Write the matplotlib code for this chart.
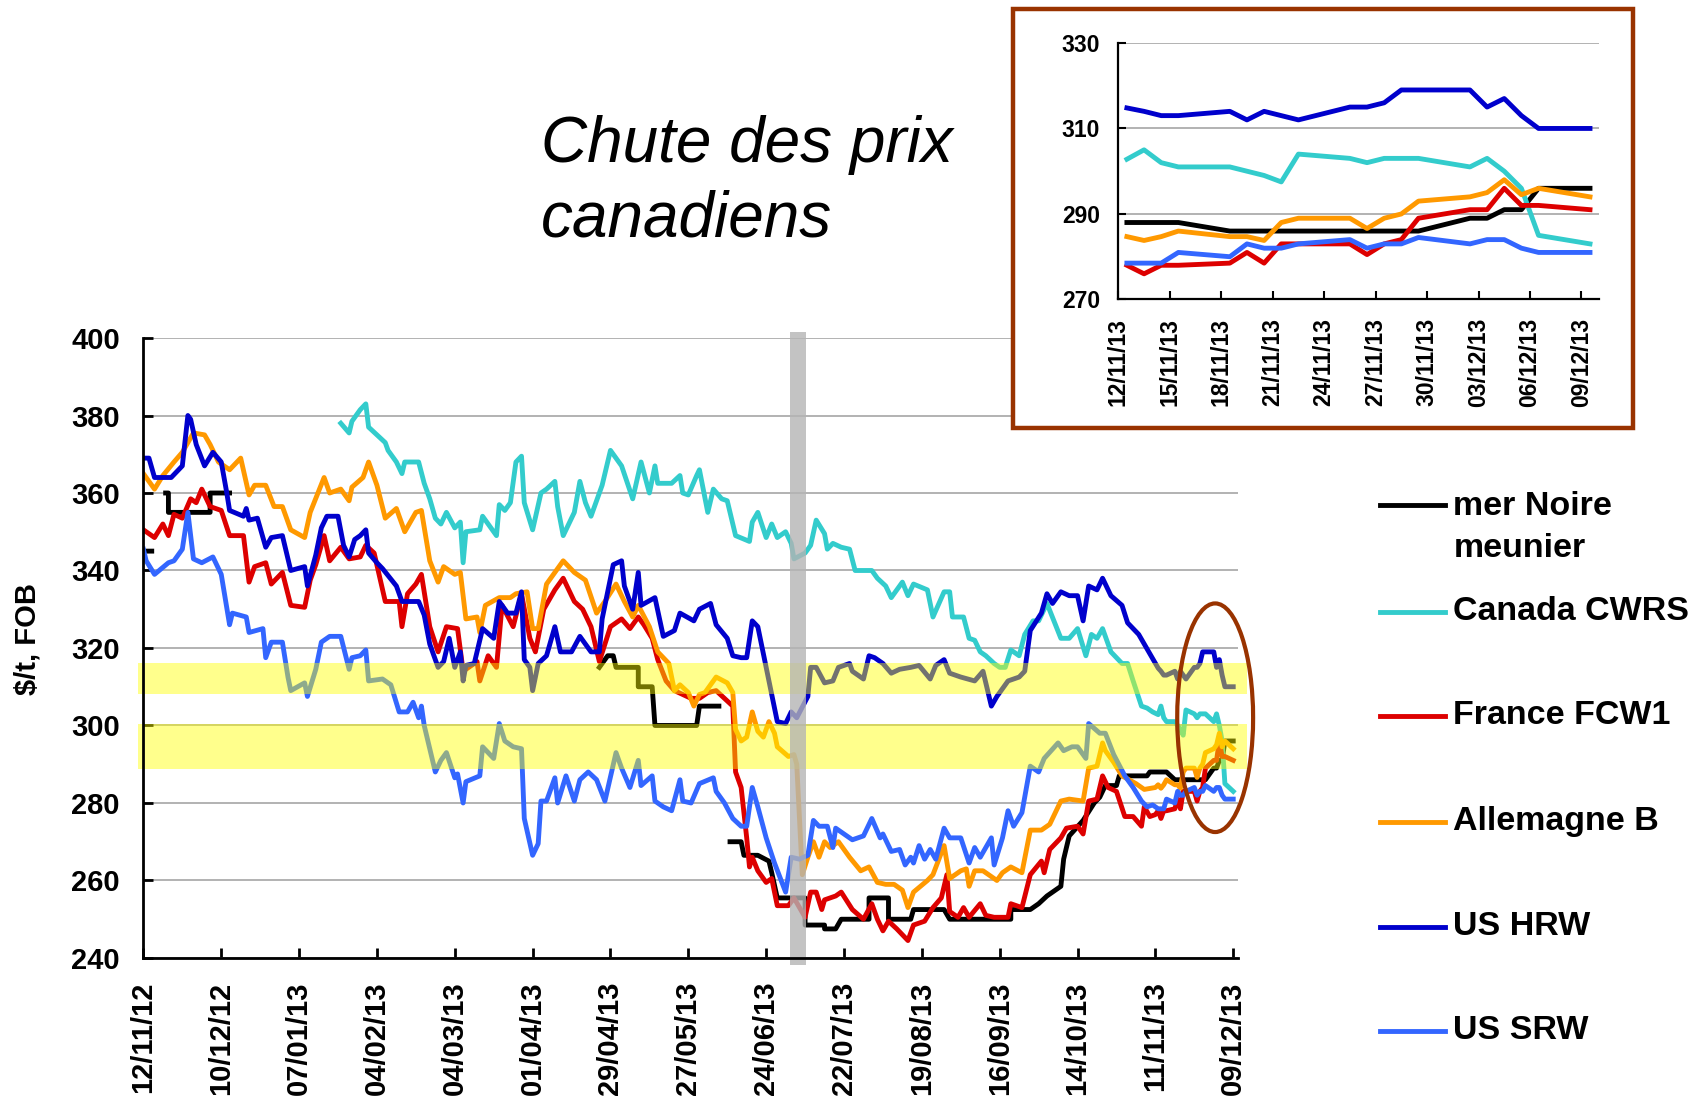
import numpy as np
import pandas as pd
import matplotlib
matplotlib.use('Agg')
import matplotlib.pyplot as plt
from matplotlib.patches import Ellipse, Rectangle
from matplotlib.lines import Line2D

plt.rcParams['font.family'] = ['Liberation Sans', 'DejaVu Sans']

# ==================== data ====================
START = pd.Timestamp('2012-11-12')

# main chart, (day offset from 12/11/12, $/t FOB) up to 11/11/13; None = no quote
NOIRE_MAIN = [(0, 345), (3, 345), (5, None),
              (8, 360), (9, 360), (9, 355), (24, 355), (24, 360), (31, 360), (33, None),
              (164, 315), (167, 318), (169, 318), (170, 315), (178, 315), (178, 310),
              (183, 310), (184, 300), (199, 300), (200, 305), (207, 305), (209, None),
              (211, 270), (215, 270), (216, 266.5), (221, 266.5), (225, 265), (226, 262),
              (228, 255.5), (238, 255.5), (238, 248.5), (245, 248.5), (245, 247.5),
              (249, 247.5), (251, 250), (261, 250), (261, 255.5), (268, 255.5), (268, 250),
              (276, 250), (277, 252.5), (288, 252.5), (290, 250), (312, 250), (312, 252.5),
              (319, 252.5), (322, 254), (325, 256), (330, 258.5), (331, 265.5), (333, 271.5),
              (338, 275.5), (342, 280), (344, 281.5), (346, 284.5), (350, 284.5), (351, 287),
              (361, 287), (362, 288), (364, 288)]

CWRS_MAIN = [(71, 378), (74, 375.5), (75, 378.5), (78, 381.5), (80, 383), (81, 377), (84, 375),
             (87, 373), (88, 371), (91, 368), (93, 365), (94, 368), (99, 368), (101, 362.5),
             (103, 358.5), (105, 353.5), (107, 352), (109, 355), (112, 351), (114, 352.5),
             (115, 342), (116, 350), (121, 350.5), (122, 354), (127, 349), (128, 357),
             (130, 355.5), (132, 357.5), (134, 368), (136, 369.5), (137, 357.5), (140, 350.5),
             (143, 360), (145, 361), (148, 363), (149, 356.5), (151, 349), (155, 355),
             (157, 363), (159, 357.5), (161, 354), (165, 362), (168, 371), (172, 367),
             (176, 358.5), (179, 368), (182, 360), (184, 367), (185, 362.5), (190, 362.5),
             (193, 364.5), (194, 360), (196, 359.5), (199, 364.5), (200, 366), (203, 355),
             (205, 361), (208, 358.5), (210, 358), (213, 349), (218, 347.5), (219, 352.5),
             (221, 355), (224, 348.5), (226, 352), (228, 348.5), (231, 350), (233, 347),
             (234, 343), (238, 344.5), (240, 346.5), (242, 353), (245, 349.5), (246, 345.5),
             (248, 347), (251, 346), (254, 345.5), (256, 340), (262, 340), (264, 338),
             (267, 336), (269, 333), (273, 337), (275, 333.5), (277, 336.5), (282, 335),
             (284, 328), (288, 334.5), (290, 334.5), (291, 328), (295, 328), (297, 322.5),
             (299, 322), (301, 319), (303, 318), (306, 316), (308, 315), (310, 315),
             (312, 319.5), (315, 318), (317, 323.5), (320, 327), (322, 327), (325, 331.5),
             (330, 322.5), (333, 322.5), (336, 325), (339, 318), (341, 323.5), (343, 322.5),
             (345, 325), (348, 319), (352, 316), (354, 316), (356, 311.5), (359, 305),
             (361, 304.5), (363, 303.5)]

FCW1_MAIN = [(0, 350.5), (4, 348.5), (7, 352), (9, 349), (11, 354.5), (14, 353.5), (17, 358.5),
             (19, 357.5), (21, 361), (24, 356.5), (28, 355.5), (31, 349), (36, 349), (38, 337),
             (40, 341), (44, 342), (46, 336.5), (48, 338), (50, 339.5), (53, 331), (58, 330.5),
             (60, 337.5), (62, 341.5), (65, 349), (67, 342.5), (71, 346), (74, 343),
             (78, 343.5), (80, 346.5), (83, 344.5), (87, 332), (92, 332), (93, 325.5),
             (95, 334), (98, 336.5), (100, 339), (103, 325.5), (106, 319), (109, 325.5),
             (113, 325), (115, 314), (120, 316.5), (121, 311.5), (124, 318), (127, 315),
             (129, 331), (133, 325.5), (136, 334), (139, 322.5), (141, 319), (144, 330),
             (148, 335), (151, 338), (155, 332), (158, 330), (161, 325.5), (164, 316.5),
             (168, 325.5), (172, 327.5), (175, 325), (178, 328), (180, 326), (183, 322.5),
             (185, 317), (188, 311.5), (191, 309), (194, 308), (197, 307), (200, 307),
             (203, 308.5), (206, 309), (209, 307), (212, 305), (213, 288), (215, 284),
             (217, 271), (218, 263.5), (219, 266), (221, 262.5), (224, 259.5), (226, 260.5),
             (228, 253.5), (232, 253.5), (234, 255.5), (238, 250.5), (240, 257), (242, 257),
             (244, 252.5), (245, 255), (249, 256), (251, 257), (255, 252.5), (259, 250),
             (262, 254), (264, 250), (266, 247), (268, 249.5), (271, 247.5), (275, 244.5),
             (277, 248.5), (281, 249.5), (284, 253), (287, 255.5), (289, 261.5), (290, 252),
             (293, 250.5), (295, 253), (297, 250.5), (301, 254), (303, 251), (306, 250.5),
             (311, 250.5), (312, 254), (316, 253), (319, 261.5), (323, 265), (324, 262),
             (326, 268), (330, 271), (332, 273.5), (336, 274), (338, 272), (340, 280.5),
             (343, 281), (345, 287), (347, 284), (350, 283), (353, 276.5), (356, 276.5),
             (359, 274), (360, 279), (362, 276.5), (364, 277)]

ALLB_MAIN = [(0, 365), (4, 361), (7, 364.5), (11, 368), (14, 370.5), (18, 375.5), (22, 375),
             (24, 372.5), (27, 368), (31, 366), (35, 369), (38, 359.5), (40, 362), (44, 362),
             (47, 356.5), (50, 356.5), (53, 350.5), (58, 348.5), (60, 355), (65, 364),
             (67, 360), (71, 361), (74, 358), (75, 361.5), (79, 364), (81, 368), (84, 362),
             (87, 353.5), (91, 356), (94, 350), (98, 355), (100, 355.5), (103, 342.5),
             (106, 337), (108, 341), (112, 339), (114, 339.5), (116, 327.5), (120, 328),
             (121, 324), (123, 331), (128, 333), (132, 333), (134, 334), (138, 334.5),
             (140, 325), (142, 325), (145, 336.5), (149, 340.5), (151, 342.5), (155, 339.5),
             (159, 337.5), (163, 329), (166, 332), (170, 336.5), (173, 332), (176, 328),
             (178, 331), (182, 325.5), (185, 319), (189, 316), (191, 309), (193, 310.5),
             (196, 308.5), (198, 305), (200, 308), (202, 308.5), (206, 312.5), (210, 311),
             (212, 308.5), (213, 299), (215, 296), (217, 297), (219, 303.5), (221, 298.5),
             (223, 297), (225, 301), (227, 298), (228, 294.5), (232, 292), (234, 292.5),
             (235, 290), (237, 261.5), (239, 266), (241, 270), (243, 266), (245, 270),
             (247, 268.5), (250, 270), (254, 266), (258, 262.5), (261, 263.5), (264, 259.5),
             (267, 259), (270, 259), (273, 257.5), (275, 253), (277, 257), (282, 260),
             (284, 261.5), (288, 269), (290, 260.5), (294, 262.5), (296, 263), (297, 258.5),
             (299, 262.5), (302, 262.5), (307, 260), (309, 262), (312, 263.5), (316, 262),
             (319, 273), (323, 273), (326, 274.5), (330, 280.5), (333, 281), (338, 280.5),
             (340, 289), (343, 289.5), (345, 295.5), (346, 293.5), (349, 290.5), (352, 287),
             (357, 285), (360, 283.5), (364, 284)]

HRW_MAIN = [(0, 369), (2, 369), (4, 364), (10, 364), (14, 367), (16, 380), (17, 379),
            (19, 372.5), (22, 367), (25, 370.5), (28, 368), (30, 360), (31, 355.5), (36, 354),
            (37, 356), (38, 353), (41, 353.5), (44, 346), (46, 348.5), (50, 349), (53, 340),
            (58, 341), (59, 336), (62, 344), (64, 351), (66, 354), (70, 354), (72, 346.5),
            (74, 343.5), (76, 348), (78, 349), (80, 350.5), (81, 344.5), (84, 342),
            (86, 340.5), (91, 336), (93, 332), (99, 332), (101, 328.5), (103, 321), (106, 315),
            (108, 316.5), (110, 322.5), (112, 315), (114, 319), (115, 311.5), (116, 315.5),
            (119, 316), (122, 325), (126, 322.5), (128, 332), (131, 329), (134, 329),
            (136, 334.5), (137, 317), (139, 315), (140, 309), (142, 316), (145, 318),
            (148, 325.5), (150, 319), (154, 319), (157, 323), (161, 319), (164, 319),
            (165, 327.5), (166, 331), (169, 341.5), (172, 342.5), (173, 336), (176, 330),
            (178, 339.5), (179, 331), (184, 333), (187, 323), (191, 324.5), (193, 329),
            (198, 327), (200, 330), (204, 331.5), (206, 326), (210, 322.5), (212, 318),
            (215, 317.5), (217, 317.5), (219, 327), (221, 325.5), (225, 311.5), (228, 301),
            (231, 300.5), (233, 303.5), (235, 302), (239, 307.5), (240, 315), (242, 315),
            (245, 311), (248, 311.5), (250, 315), (254, 316), (255, 314), (259, 312),
            (261, 318), (263, 317.5), (266, 316), (269, 313.5), (272, 314.5), (276, 315),
            (279, 315.5), (283, 312), (285, 315.5), (288, 317), (290, 313.5), (294, 312.5),
            (299, 311.5), (302, 314), (305, 305), (307, 307.5), (311, 311.5), (315, 312.5),
            (317, 314), (319, 324.5), (323, 329), (325, 334), (327, 331.5), (330, 334.5),
            (333, 333.5), (336, 333.5), (338, 327), (340, 336), (343, 335), (345, 338),
            (348, 333.5), (352, 331), (354, 326.5), (358, 323.5), (362, 318.5)]

SRW_MAIN = [(0, 345.5), (1, 342.5), (4, 339), (9, 342), (11, 342.5), (14, 345.5), (16, 355),
            (18, 343), (21, 342), (25, 343.5), (28, 339), (31, 326), (32, 329), (37, 328),
            (38, 324), (43, 325), (44, 317.5), (46, 321.5), (50, 321.5), (52, 312.5), (53, 309),
            (58, 311), (59, 307.5), (62, 314.5), (64, 321.5), (67, 323), (71, 323),
            (74, 314.5), (75, 317.5), (78, 318), (80, 319.5), (81, 311.5), (86, 312),
            (89, 310.5), (92, 303.5), (95, 303.5), (97, 306), (99, 302), (100, 305), (101, 300),
            (105, 288), (107, 291), (109, 293), (112, 286.5), (113, 287.5), (115, 280),
            (116, 285.5), (121, 287), (122, 294.5), (126, 291.5), (128, 300.5), (130, 296),
            (133, 294.5), (136, 294), (137, 276), (140, 266.5), (142, 269.5), (143, 280.5),
            (145, 280.5), (148, 286.5), (149, 280), (152, 287), (155, 280.5), (157, 286),
            (160, 288), (163, 286), (166, 280.5), (170, 293), (172, 289), (175, 284),
            (178, 291), (179, 284.5), (183, 287), (184, 280.5), (187, 279), (190, 278),
            (193, 286), (194, 280.5), (197, 280), (200, 285), (205, 286.5), (206, 283),
            (209, 280), (212, 276), (215, 274), (217, 274), (219, 284), (221, 279), (224, 271),
            (227, 264.5), (231, 257), (233, 266), (236, 265.5), (239, 266.5), (241, 275.5),
            (243, 274), (246, 274), (248, 268.5), (249, 273.5), (252, 272), (255, 270.5),
            (259, 271.5), (262, 276), (265, 271), (266, 272), (269, 267.5), (272, 268),
            (274, 264), (276, 266), (277, 264.5), (279, 269), (281, 265.5), (283, 268),
            (285, 265.5), (288, 273.5), (290, 271), (294, 271), (297, 264.5), (299, 268.5),
            (301, 266), (305, 271), (306, 264), (309, 271), (311, 278), (313, 274),
            (316, 277.5), (319, 289.5), (322, 288), (324, 291.5), (329, 295.5), (331, 293.5),
            (334, 294.5), (336, 294.5), (339, 291.5), (340, 300.5), (344, 298), (346, 298),
            (349, 292.5), (353, 287), (356, 284), (359, 280.5), (361, 279), (363, 279.5)]

# last four weeks (inset, also the tail of the main chart)
INSET_DATES = ['2013-11-12', '2013-11-13', '2013-11-14', '2013-11-15', '2013-11-18',
               '2013-11-19', '2013-11-20', '2013-11-21', '2013-11-22', '2013-11-25',
               '2013-11-26', '2013-11-27', '2013-11-28', '2013-11-29', '2013-12-02',
               '2013-12-03', '2013-12-04', '2013-12-05', '2013-12-06', '2013-12-09']
NOIRE_LAST = [288, 288, 288, 288, 286, 286, 286, 286, 286, 286,
              286, 286, 286, 286, 289, 289, 291, 291, 296, 296]
CWRS_LAST = [302.8, 305, 302, 301, 301, 300, 299, 297.5, 304, 303,
             302, 303, 303, 303, 301, 303, 300, 296, 285, 283]
FCW1_LAST = [278, 276, 278, 278, 278.5, 281, 278.5, 283, 283, 283,
             280.5, 283, 284, 289, 291, 291, 296, 292, 292, 291]
ALLB_LAST = [284.7, 283.8, 284.7, 286, 284.7, 284.7, 283.8, 288, 289, 289,
             286.6, 289, 290, 293, 294, 295, 298, 294.5, 296, 294]
HRW_LAST = [314.8, 314, 313, 313, 314, 312, 314, 313, 312, 315,
            315, 316, 319, 319, 319, 315, 317, 313, 310, 310]
SRW_LAST = [278.5, 278.5, 278.5, 281, 280, 283, 282, 282, 283, 284,
            282, 283, 283, 284.5, 283, 284, 284, 282, 281, 281]

LABELS = ['mer Noire\nmeunier', 'Canada CWRS', 'France FCW1', 'Allemagne B', 'US HRW', 'US SRW']
COLORS = ['#000000', '#33CCCC', '#DD0000', '#FF9900', '#0000CC', '#3366FF']
MAIN = [NOIRE_MAIN, CWRS_MAIN, FCW1_MAIN, ALLB_MAIN, HRW_MAIN, SRW_MAIN]
LAST = [NOIRE_LAST, CWRS_LAST, FCW1_LAST, ALLB_LAST, HRW_LAST, SRW_LAST]

MAIN_TICK_STEP = 28      # jours entre étiquettes
MAIN_END = 392           # 09/12/13
BAND_LOW = (288.7, 300.3)
BAND_HIGH = (308, 316)
HARVEST = (232.4, 238.3)  # bande grise

inset_dates = pd.to_datetime(INSET_DATES)
inset_off = np.array([(d - START).days for d in inset_dates])
inset_x = np.array([(d - inset_dates[0]).days for d in inset_dates])

# ==================== figure ====================
fig = plt.figure(figsize=(16.97, 11.01), dpi=100)
fig.patch.set_facecolor('white')

ax = fig.add_axes([0.0845, 0.1299, 0.6450, 0.5631])
for main, last, col in zip(MAIN, LAST, COLORS):
    arr = np.array(main, dtype=float)
    xs = np.concatenate([arr[:, 0], inset_off])
    ys = np.concatenate([arr[:, 1], np.array(last, dtype=float)])
    ax.plot(xs, ys, '-', color=col, lw=3.5, solid_joinstyle='round', zorder=3)

# bandes jaunes + bande grise (par-dessus les courbes)
for lo, hi in (BAND_LOW, BAND_HIGH):
    ax.axhspan(lo, hi, xmin=-0.005, xmax=1.008, facecolor='#ffff00', alpha=0.45,
               edgecolor='none', zorder=4, clip_on=False)
ax.axvspan(HARVEST[0], HARVEST[1], ymin=-0.012, ymax=1.01, facecolor='#b4b4b4',
           alpha=0.8, edgecolor='none', zorder=5, clip_on=False)

# ellipse sur les derniers jours
ax.add_patch(Ellipse((385.5, 302), 27.3, 59, fill=False, edgecolor='#993300',
                     lw=3, zorder=6, clip_on=False))

ax.set_xlim(0, 393.7)
ax.set_ylim(240, 400)
ax.set_yticks(np.arange(240, 401, 20))
tick_days = np.arange(0, MAIN_END + 1, MAIN_TICK_STEP)
ax.set_xticks(tick_days)
ax.set_xticklabels([(START + pd.Timedelta(days=int(d))).strftime('%d/%m/%y') for d in tick_days],
                   rotation=90, fontsize=21, fontweight='bold')
ax.tick_params(axis='x', direction='in', length=7, width=2, pad=17)
ax.tick_params(axis='y', direction='in', length=7, width=2, pad=17, labelsize=21)
for lab in ax.get_yticklabels():
    lab.set_fontweight('bold')
ax.grid(axis='y', color='#a6a6a6', lw=1.2, zorder=0)
ax.set_axisbelow(True)
for s in ('top', 'right'):
    ax.spines[s].set_visible(False)
for s in ('left', 'bottom'):
    ax.spines[s].set_linewidth(2)
    ax.spines[s].set_zorder(7)

fig.text(0.016, 0.42, '$/t, FOB', rotation=90, ha='center', va='center',
         fontsize=21, fontweight='bold')

# titre
fig.text(0.319, 0.853, 'Chute des prix', fontsize=46, style='italic', va='baseline')
fig.text(0.319, 0.7856, 'canadiens', fontsize=46, style='italic', va='baseline')

# légende manuelle
leg_y = [0.541, 0.4444, 0.350, 0.2537, 0.1583, 0.0639]
for lab, col, y in zip(LABELS, COLORS, leg_y):
    fig.add_artist(Line2D([0.8132, 0.8515], [y, y], color=col, lw=3.5))
    if '\n' in lab:
        fig.text(0.8565, y - 0.020, lab, fontsize=24.5, fontweight='bold',
                 va='center', linespacing=1.45)
    else:
        fig.text(0.8565, y, lab, fontsize=24.5, fontweight='bold', va='center')

# ==================== encart ====================
fig.add_artist(Rectangle((0.597, 0.611), 0.365, 0.381, transform=fig.transFigure,
                         facecolor='white', edgecolor='#993300', lw=3.2, zorder=10))
axi = fig.add_axes([0.659, 0.728, 0.283, 0.233], zorder=11)
axi.set_facecolor('white')
for last, col in zip(LAST, COLORS):
    axi.plot(inset_x, last, '-', color=col, lw=3.5, zorder=3)
axi.set_xlim(-0.5, 27.5)
axi.set_ylim(270, 330)
axi.set_yticks([270, 290, 310, 330])
itick = np.arange(0, 28, 3)
axi.set_xticks(itick - 0.5)
axi.set_xticklabels([(inset_dates[0] + pd.Timedelta(days=int(d))).strftime('%d/%m/%y')
                     for d in itick], rotation=90, fontsize=16.5, fontweight='bold')
axi.tick_params(axis='x', direction='in', length=6, width=1.5, pad=13)
axi.tick_params(axis='y', direction='in', length=6, width=1.5, pad=13, labelsize=16.5)
for lab in axi.get_yticklabels():
    lab.set_fontweight('bold')
axi.grid(axis='y', color='#a6a6a6', lw=1.2)
axi.set_axisbelow(True)
for s in ('top', 'right'):
    axi.spines[s].set_visible(False)
for s in ('left', 'bottom'):
    axi.spines[s].set_linewidth(1.6)

fig.savefig('out.png', dpi=100, facecolor=fig.get_facecolor())
